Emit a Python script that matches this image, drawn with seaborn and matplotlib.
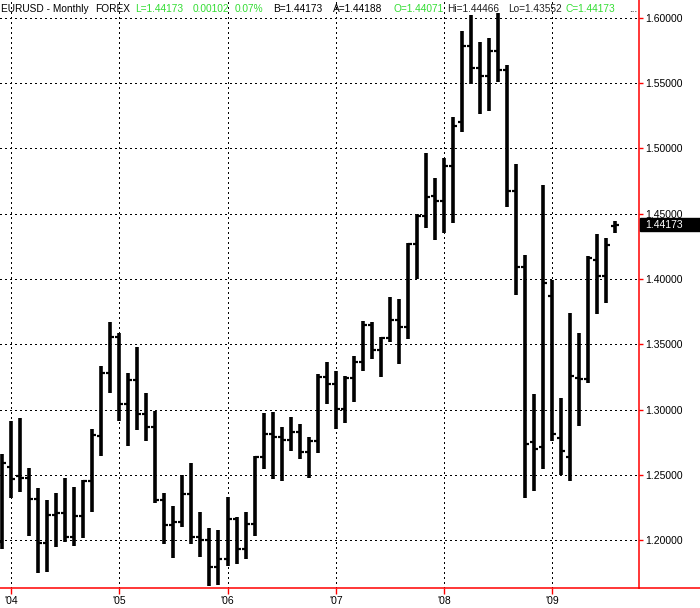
"""EURUSD monthly OHLC bar chart (Dec 2003 - Aug 2009)."""

import matplotlib

matplotlib.use("Agg")
import matplotlib.pyplot as plt
import matplotlib.transforms as mtransforms
import numpy as np
import pandas as pd
import seaborn as sns
from matplotlib.lines import Line2D
from matplotlib.patches import Rectangle

# --- data --------------------------------------------------------------------
months = pd.period_range("2003-12", "2009-08", freq="M").astype(str).tolist()

opens = [
    1.1985,
    1.2560, 1.2492, 1.2480, 1.2318, 1.1976, 1.2193, 1.2206, 1.2027, 1.2185, 1.2453, 1.2800, 1.3283,
    1.3558, 1.3041, 1.3227, 1.2966, 1.2869, 1.2308, 1.2114, 1.2142, 1.2354, 1.2026, 1.2001, 1.1793,
    1.1859, 1.2162, 1.1934, 1.2124, 1.2636, 1.2815, 1.2790, 1.2770, 1.2832, 1.2678, 1.2762, 1.3247,
    1.3199, 1.3007, 1.3240, 1.3362, 1.3648, 1.3456, 1.3546, 1.3686, 1.3630, 1.4268, 1.4482, 1.4635,
    1.4600, 1.4864, 1.5201, 1.5783, 1.5618, 1.5551, 1.5745, 1.5600, 1.4673, 1.4090, 1.2750, 1.2710,
    1.3870, 1.2786, 1.2635, 1.3240, 1.3232, 1.4145, 1.4025, 1.44071,
]
highs = [
    1.2660,
    1.2915, 1.2933, 1.2551, 1.2397, 1.2308, 1.2363, 1.2474, 1.2405, 1.2461, 1.2849, 1.3336, 1.3673,
    1.3584, 1.3283, 1.3482, 1.3129, 1.2992, 1.2363, 1.2264, 1.2500, 1.2594, 1.2214, 1.2096, 1.2078,
    1.2333, 1.2175, 1.2218, 1.2647, 1.2977, 1.2985, 1.2867, 1.2943, 1.2887, 1.2793, 1.3271, 1.3367,
    1.3299, 1.3260, 1.3413, 1.3681, 1.3673, 1.3554, 1.3860, 1.3845, 1.4273, 1.4498, 1.4967, 1.4776,
    1.4923, 1.5242, 1.5898, 1.6018, 1.5814, 1.5848, 1.6034, 1.5636, 1.4877, 1.4181, 1.3120, 1.4719,
    1.3989, 1.3091, 1.3742, 1.3589, 1.4175, 1.4342, 1.4311, 1.44466,
]
lows = [
    1.1930,
    1.2321, 1.2367, 1.2035, 1.1746, 1.1759, 1.1950, 1.1984, 1.1958, 1.2019, 1.2218, 1.2645, 1.3129,
    1.2915, 1.2721, 1.2845, 1.2757, 1.2283, 1.1968, 1.1861, 1.2104, 1.1968, 1.1874, 1.1650, 1.1657,
    1.1803, 1.1818, 1.1856, 1.2030, 1.2546, 1.2469, 1.2455, 1.2683, 1.2622, 1.2476, 1.2671, 1.3041,
    1.2849, 1.2895, 1.3061, 1.3299, 1.3387, 1.3247, 1.3520, 1.3349, 1.3541, 1.4000, 1.4393, 1.4298,
    1.4355, 1.4426, 1.5128, 1.5495, 1.5266, 1.5286, 1.5508, 1.4554, 1.3874, 1.2325, 1.2379, 1.2542,
    1.2759, 1.2503, 1.2452, 1.2874, 1.3201, 1.3735, 1.3819, 1.43552,
]
closes = [
    1.2593,
    1.2466, 1.2480, 1.2318, 1.1976, 1.2193, 1.2206, 1.2027, 1.2185, 1.2453, 1.2806, 1.3283, 1.3558,
    1.3041, 1.3227, 1.2966, 1.2869, 1.2308, 1.2114, 1.2142, 1.2354, 1.2026, 1.2001, 1.1793, 1.1859,
    1.2162, 1.1934, 1.2124, 1.2639, 1.2815, 1.2790, 1.2770, 1.2832, 1.2678, 1.2762, 1.3247, 1.3199,
    1.3007, 1.3240, 1.3362, 1.3648, 1.3456, 1.3546, 1.3686, 1.3630, 1.4268, 1.4482, 1.4626, 1.4600,
    1.4864, 1.5171, 1.5783, 1.5618, 1.5551, 1.5745, 1.5600, 1.4673, 1.4095, 1.2739, 1.2699, 1.3967,
    1.2815, 1.2686, 1.3257, 1.3232, 1.4163, 1.4025, 1.4257, 1.44173,
]

year_labels = ["'04", "'05", "'06", "'07", "'08", "'09"]
price_ticks = [1.20, 1.25, 1.30, 1.35, 1.40, 1.45, 1.50, 1.55, 1.60]

header = [
    ("EURUSD - Monthly", 1, "black"),
    ("FOREX", 95, "black"),
    ("L=1.44173", 135, "#33dd33"),
    ("0.00102", 193, "#33dd33"),
    ("0.07%", 235, "#33dd33"),
    ("B=1.44173", 273, "black"),
    ("A=1.44188", 333, "black"),
    ("O=1.44071", 393, "#33dd33"),
    ("Hi=1.44466", 447, "#222222"),
    ("Lo=1.43552", 508, "#222222"),
    ("C=1.44173", 566, "#33dd33"),
    ("...", 629, "black"),
]

# --- frame ---------------------------------------------------------------------
df = pd.DataFrame({"month": months, "open": opens, "high": highs, "low": lows, "close": closes})
df["idx"] = np.arange(len(df))
df["bar"] = df["idx"]
ranges = df.melt(id_vars=["idx", "bar"], value_vars=["low", "high"], value_name="price")
year_pos = df.loc[df["month"].str.endswith("-01"), "idx"].tolist()

sns.set_style("white")
plt.rcParams["font.family"] = ["Liberation Sans", "DejaVu Sans"]

W, H = 700, 608
fig = plt.figure(figsize=(W / 100, H / 100), dpi=100)
ax = fig.add_axes([0, 20 / H, 638.5 / W, 588 / H])

# high-low bars
sns.lineplot(
    data=ranges, x="idx", y="price", units="bar", estimator=None,
    color="black", linewidth=2.6, solid_capstyle="butt", ax=ax, zorder=3,
)
# open / close ticks
ax.plot(df["idx"], df["open"], ls="none", marker=0, ms=3.0, mew=1.6, color="black", zorder=3)
ax.plot(df["idx"], df["close"], ls="none", marker=1, ms=3.0, mew=1.6, color="black", zorder=3)

ax.set_xlim(-2 / 9.02, 636.5 / 9.02)
ax.set_ylim(1.1634, 1.61363)
ax.set_xlabel("")
ax.set_ylabel("")

ax.set_xticks(year_pos)
ax.set_xticklabels(year_labels)
ax.set_yticks(price_ticks)
ax.set_yticklabels([f"{v:.5f}" for v in price_ticks])
ax.yaxis.tick_right()

ax.grid(True, color="black", linestyle=(0, (1, 3)), linewidth=0.75, antialiased=False)
ax.set_axisbelow(True)

for side in ["left", "top"]:
    ax.spines[side].set_visible(False)
for side in ["right", "bottom"]:
    ax.spines[side].set_color("red")
    ax.spines[side].set_linewidth(1.1)

ax.tick_params(axis="y", colors="red", labelcolor="black", length=3, width=1,
               pad=1.5, labelsize=7.5, right=True, left=False)
ax.tick_params(axis="x", colors="red", labelcolor="black", length=4.3, width=1,
               pad=1.5, labelsize=7.5, bottom=True)

# bottom axis line continues to the figure edge
fig.add_artist(Line2D([638.5 / W, 1], [20 / H, 20 / H], color="red", lw=1.1))

# last price label
last = closes[-1]
trans = mtransforms.blended_transform_factory(ax.transAxes, ax.transData)
ax.add_patch(Rectangle((1 + 1.5 / 638.5, last - 6.3 / 1306), 62 / 638.5, 12.6 / 1306,
                       transform=trans, color="black", clip_on=False, zorder=5))
ax.text(1 + 7 / 638.5, last, f"{last:.5f}", transform=trans, color="white",
        fontsize=7.5, va="center", ha="left", zorder=6, clip_on=False)

# header line
for txt, px, col in header:
    fig.text(px / W, 1 - 8.5 / H, txt, color=col, fontsize=7.3, va="center", ha="left")

fig.savefig("out.png", dpi=100)
